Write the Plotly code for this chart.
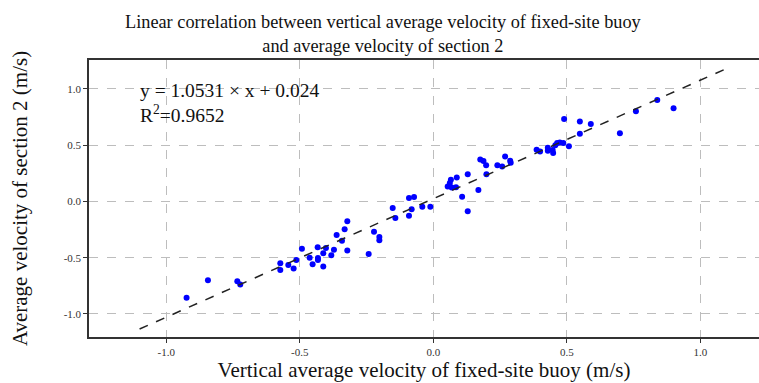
import plotly.graph_objects as go

# Data
buoy_velocity = [
    -0.924, -0.844, -0.734, -0.723, -0.573, -0.573, -0.543, -0.523, -0.513, -0.492,
    -0.463, -0.452, -0.433, -0.432, -0.432, -0.412, -0.412, -0.402, -0.382, -0.372,
    -0.362, -0.342, -0.332, -0.322, -0.322, -0.242, -0.222, -0.202, -0.202, -0.152,
    -0.142, -0.091, -0.072, -0.081, -0.091, -0.041, -0.011,
    0.054, 0.066, 0.062, 0.069, 0.085, 0.088, 0.108, 0.129, 0.129, 0.169,
    0.176, 0.188, 0.198, 0.199, 0.240, 0.258, 0.269, 0.288, 0.290,
    0.387, 0.400, 0.429, 0.429, 0.447, 0.449, 0.457, 0.464, 0.474, 0.487,
    0.490, 0.508, 0.549, 0.549, 0.590, 0.699, 0.759, 0.839, 0.900,
]
section_velocity = [
    -0.857, -0.701, -0.710, -0.739, -0.550, -0.609, -0.565, -0.597, -0.520, -0.420,
    -0.500, -0.559, -0.408, -0.502, -0.520, -0.461, -0.579, -0.414, -0.479, -0.429,
    -0.298, -0.349, -0.248, -0.177, -0.437, -0.467, -0.269, -0.316, -0.346, -0.059,
    -0.148, 0.030, 0.040, -0.069, -0.128, -0.047, -0.047,
    0.133, 0.193, 0.163, 0.124, 0.126, 0.212, 0.042, 0.242, -0.087, 0.102,
    0.373, 0.360, 0.321, 0.242, 0.321, 0.311, 0.399, 0.361, 0.343,
    0.460, 0.444, 0.477, 0.451, 0.457, 0.430, 0.500, 0.520, 0.524, 0.520,
    0.733, 0.491, 0.710, 0.601, 0.689, 0.607, 0.802, 0.902, 0.828,
]

fit_slope = 1.0531
fit_intercept = 0.024
fit_x = [-1.1, 1.1]
fit_y = [fit_slope * v + fit_intercept for v in fit_x]

tick_values = [-1.0, -0.5, 0.0, 0.5, 1.0]
tick_labels = ["-1.0", "-0.5", "0.0", "0.5", "1.0"]

title_text = ("Linear correlation between vertical average velocity of fixed-site buoy"
              "<br>and average velocity of section 2")
fit_text = "y = 1.0531 × x + 0.024<br>R<sup>2</sup>=0.9652"

FONT = "Liberation Serif"

fig = go.Figure()
fig.add_trace(go.Scatter(
    x=buoy_velocity, y=section_velocity, mode="markers",
    marker=dict(color="#0000ff", size=6, line=dict(width=0)),
    showlegend=False,
))
fig.add_trace(go.Scatter(
    x=fit_x, y=fit_y, mode="lines",
    line=dict(color="#222222", width=1.5, dash="dash"),
    showlegend=False,
))

fig.add_annotation(
    x=0.073, y=0.935, xref="paper", yref="paper", xanchor="left", yanchor="top",
    text=fit_text, showarrow=False, align="left",
    font=dict(family=FONT, size=19.5, color="#111111"),
)
fig.add_annotation(
    x=0.439, y=1.18, xref="paper", yref="paper", xanchor="center", yanchor="top",
    text=title_text, showarrow=False, align="center",
    font=dict(family=FONT, size=18.3, color="#111111"),
)

axis_common = dict(
    showgrid=True, gridcolor="#bdbdbd", griddash="dash", gridwidth=1,
    zeroline=False, showline=True, linecolor="#333333", linewidth=1.5,
    ticks="outside", ticklen=4, tickcolor="#333333",
    tickfont=dict(family=FONT, size=11, color="#333333"),
    tickvals=tick_values, ticktext=tick_labels,
)

fig.update_layout(
    width=759, height=383,
    margin=dict(l=89, r=0, t=60, b=46),
    paper_bgcolor="white", plot_bgcolor="white",
    xaxis=dict(
        range=[-1.2895, 1.220], mirror=True,
        title=dict(text="Vertical average velocity of fixed-site buoy (m/s)",
                   font=dict(family=FONT, size=21, color="#111111"), standoff=5),
        **axis_common,
    ),
    yaxis=dict(
        range=[-1.205, 1.257], mirror=False,
        title=dict(text="Average velocity of section 2 (m/s)",
                   font=dict(family=FONT, size=21, color="#111111"), standoff=30),
        **axis_common,
    ),
)

fig.write_html("out.html")
